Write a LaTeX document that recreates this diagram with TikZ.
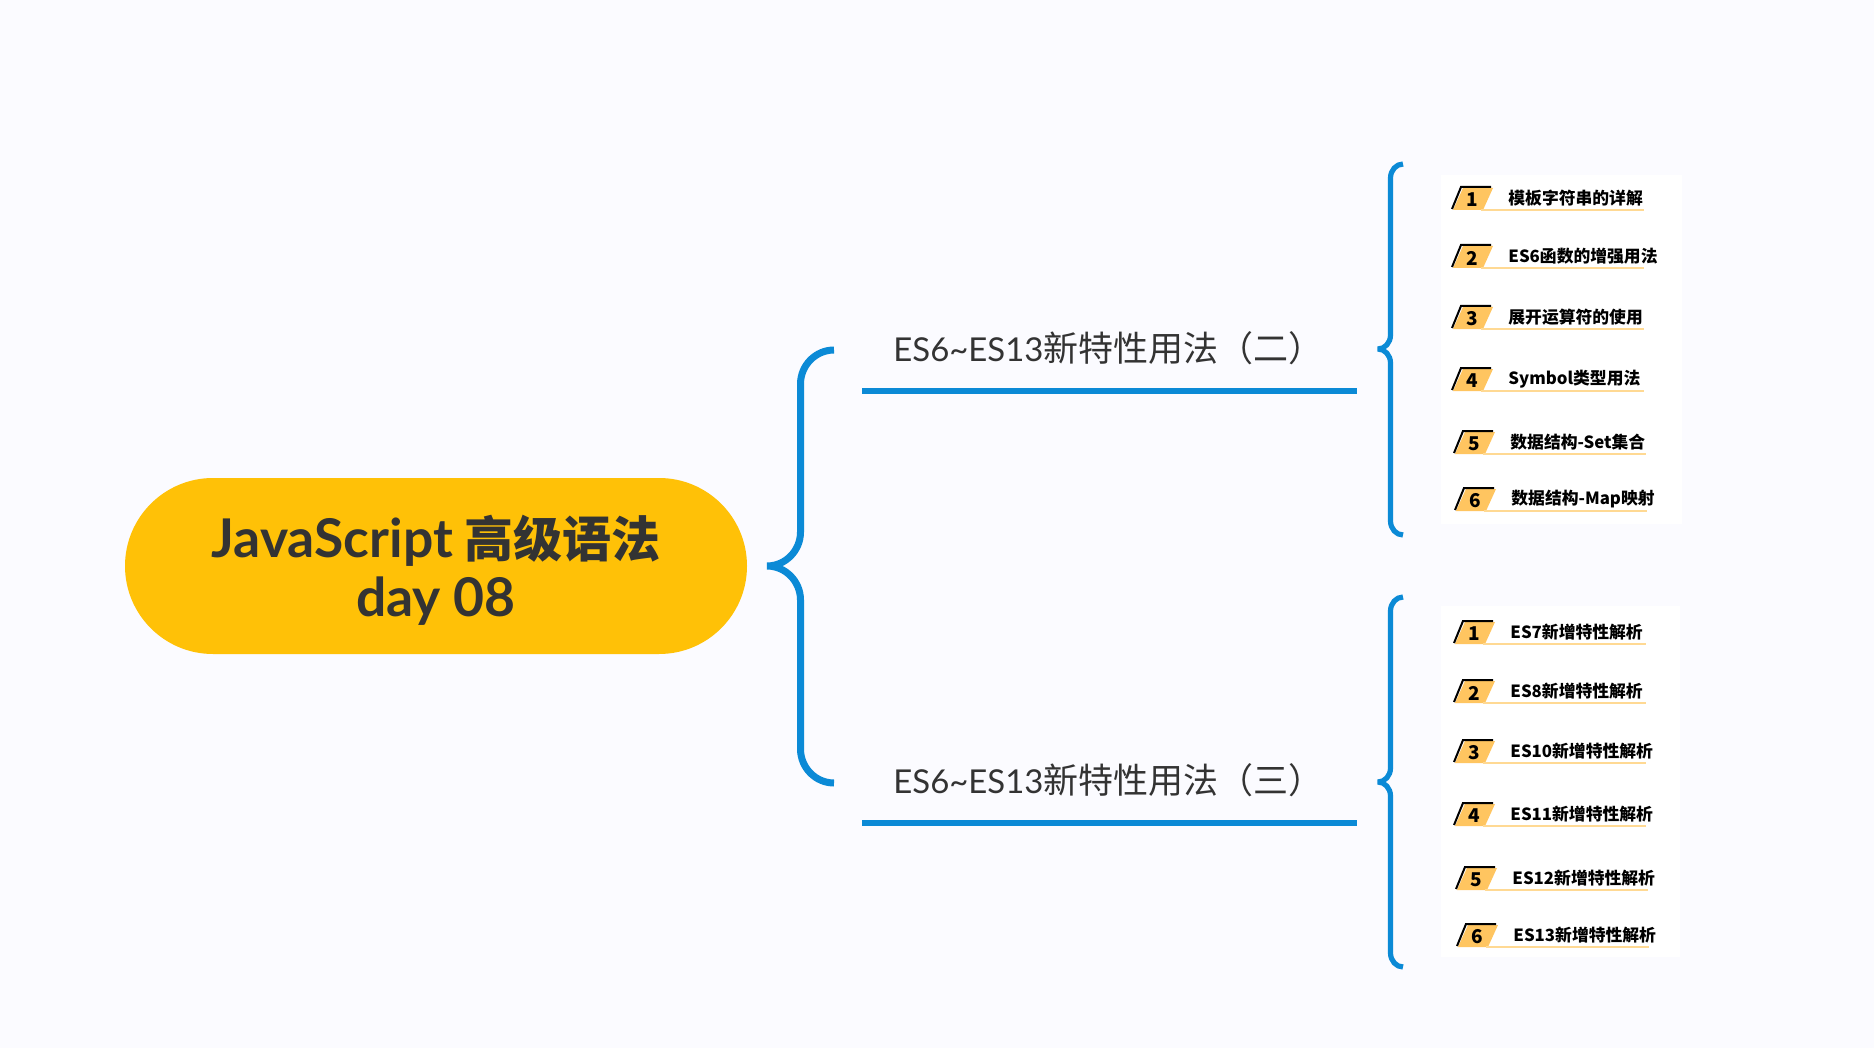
\documentclass[tikz,border=0pt]{standalone}
\usepackage{fontspec}
\setmainfont{Noto Sans CJK SC}
\newfontfamily\latfont[Scale=0.94]{Lato}
\newfontfamily\rootlat[Scale=1.09]{Lato}
\usetikzlibrary{calc}
\definecolor{pagebg}{HTML}{FBFBFF}
\definecolor{pillyellow}{HTML}{FFC107}
\definecolor{braceblue}{HTML}{0B8AD6}
\definecolor{tagorange}{HTML}{FFC560}
\definecolor{rulelight}{HTML}{FFD993}
\definecolor{inkdark}{HTML}{333333}
\tikzset{
    bracestroke/.style={draw=braceblue,line width=#1,line join=bevel},
    headrule/.style={draw=braceblue,line width=3.2pt},
    headtext/.style={text=inkdark,font=\fontsize{17.5}{21}\selectfont,inner sep=0pt,anchor=west},
    itemtext/.style={text=black,font=\fontsize{8.4}{10}\selectfont\bfseries,anchor=west,inner sep=0pt},
    tagnum/.style={text=black,font=\fontsize{9.5}{11}\selectfont\bfseries,inner sep=0pt},
    itemrule/.style={draw=rulelight,line width=0.6pt},
}
% tip, upper end, lower end, bulge, radius
\newcommand{\bluebrace}[6]{%
    \draw[bracestroke=#6] (#2)
        .. controls ($(#2)+(-.55*#4,0)$) and ($(#2)+(-#4,.45*#5)$) .. ($(#2)+(-#4,#5)$)
        -- ($(#1)+(#4,-#5)$)
        .. controls ($(#1)+(#4,-.45*#5)$) and ($(#1)+(.55*#4,0)$) .. (#1)
        .. controls ($(#1)+(.55*#4,0)$) and ($(#1)+(#4,.45*#5)$) .. ($(#1)+(#4,#5)$)
        -- ($(#3)+(-#4,-#5)$)
        .. controls ($(#3)+(-#4,-.45*#5)$) and ($(#3)+(-.55*#4,0)$) .. (#3);
}
\begin{document}
\begin{tikzpicture}[x=0.5pt,y=-0.5pt]
    \fill[pagebg] (0,0) rectangle (1874,1048);
    \fill[white] (1441,175) rectangle (1682,524);
    \fill[white] (1441,606) rectangle (1680,957);
    %%
    \node[fill=pillyellow,rounded corners=44pt,minimum width=311pt,minimum height=88pt] (root) at (436,566) {};
    \node[align=center,text=inkdark,font=\fontsize{24.5}{29.3}\selectfont\bfseries] (rootLabel) at (436,570)
        {{\rootlat JavaScript} 高级语法\\{\rootlat day 08}};
    %%
    \coordinate (rootTip) at (767,566);
    \coordinate (rootTop) at (834,350);
    \coordinate (rootBot) at (834,783);
    \bluebrace{rootTip}{rootTop}{rootBot}{33.5}{34}{3.5pt}
    %%
    \node[headtext] (headOne) at (893,348) {{\latfont ES6\textasciitilde ES13}新特性用法（二）};
    \coordinate (headOneL) at (862,391);
    \coordinate (headOneR) at (1357,391);
    \draw[headrule] (headOneL) -- (headOneR);
    \node[headtext] (headTwo) at (893,780) {{\latfont ES6\textasciitilde ES13}新特性用法（三）};
    \coordinate (headTwoL) at (862,823);
    \coordinate (headTwoR) at (1357,823);
    \draw[headrule] (headTwoL) -- (headTwoR);
    %%
    \coordinate (oneTip) at (1378,349);
    \coordinate (oneTop) at (1403,164);
    \coordinate (oneBot) at (1403,535);
    \bluebrace{oneTip}{oneTop}{oneBot}{12.5}{14}{2.6pt}
    \coordinate (twoTip) at (1378,782);
    \coordinate (twoTop) at (1403,597);
    \coordinate (twoBot) at (1403,967);
    \bluebrace{twoTip}{twoTop}{twoBot}{12.5}{14}{2.6pt}
    %%
    \foreach \x/\y/\n/\txt in {
        1453/210/1/模板字符串的详解,
        1453/268/2/ES6函数的增强用法,
        1453/329/3/展开运算符的使用,
        1453/391/4/Symbol类型用法,
        1455/454/5/数据结构-Set集合,
        1456/511/6/数据结构-Map映射,
        1455/644/1/ES7新增特性解析,
        1455/703/2/ES8新增特性解析,
        1455/763/3/ES10新增特性解析,
        1455/826/4/ES11新增特性解析,
        1457/890/5/ES12新增特性解析,
        1458/947/6/ES13新增特性解析} {
        \fill[tagorange] (\x,\y) -- ++(30,0) -- ++(10,-22) -- ++(-30,0) -- cycle;
        \draw[line width=1pt] (\x-1,\y-1) -- ++(9,-22) -- ++(30,0);
        \draw[itemrule] (\x+28,\y) -- (\x+191,\y);
        \node[tagnum] (num\x\y) at (\x+19,\y-10) {\n};
        \node[itemtext] (item\x\y) at (\x+55,\y-12) {\txt};
    }
\end{tikzpicture}
\end{document}
